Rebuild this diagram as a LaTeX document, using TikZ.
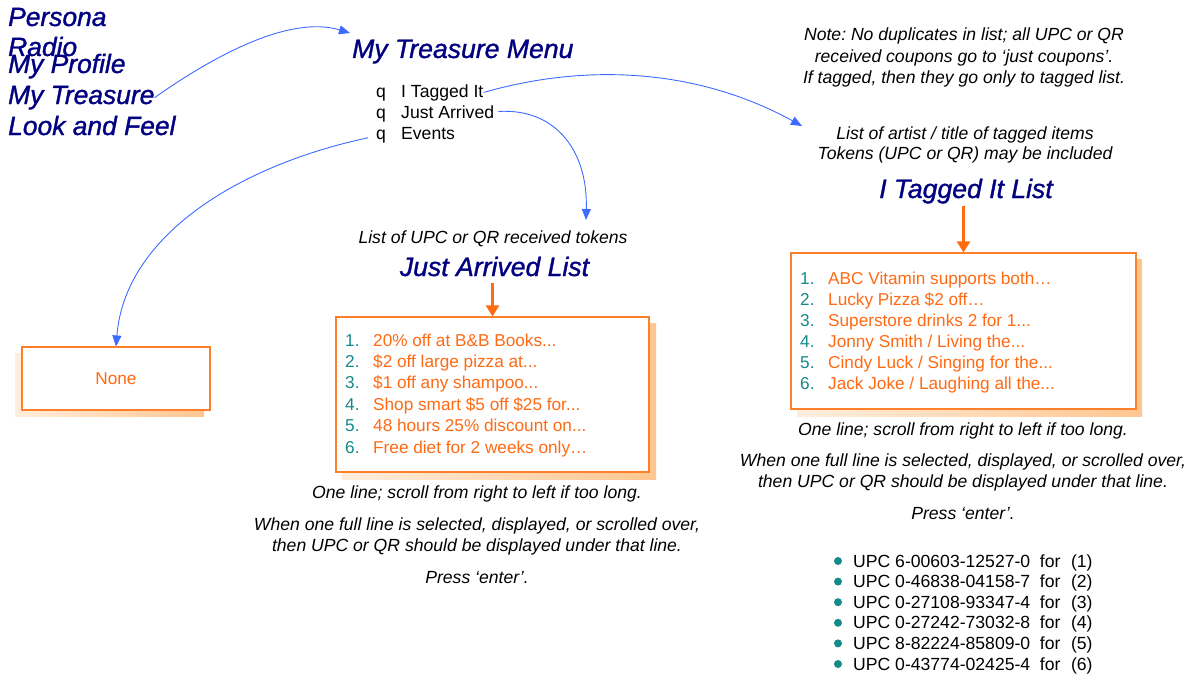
\documentclass[tikz,border=0pt]{standalone}
\usepackage{fontspec}
\setmainfont{Liberation Sans}
\newfontfamily\navyfont{Liberation Sans}[FakeBold=1.2]
\usetikzlibrary{arrows.meta}
\frenchspacing

\definecolor{navy}{HTML}{000080}
\definecolor{linkblue}{HTML}{3D6BFF}
\definecolor{boxorange}{HTML}{FF7F2A}
\definecolor{droporange}{HTML}{FF6A10}
\definecolor{txtorange}{HTML}{FF6A13}
\definecolor{numteal}{HTML}{158A8A}
\definecolor{shadelight}{HTML}{FFEEDD}
\definecolor{shadedark}{HTML}{FFC690}

\newcommand\fsz[1]{\fontsize{#1}{#1}\selectfont}

\begin{document}
\begin{tikzpicture}[x=1pt,y=-1pt,
  menuitem/.style={font=\navyfont\fsz{26.4}\itshape, text=navy, anchor=base west, inner sep=0pt},
  heading/.style={font=\navyfont\fsz{26.6}\itshape, text=navy, anchor=base, inner sep=0pt},
  choice/.style={font=\fsz{17.6}, anchor=base west, inner sep=0pt},
  remark/.style={font=\fsz{17.6}\itshape, anchor=base, inner sep=0pt},
  panel/.style={draw=boxorange, fill=white, line width=1.1pt, inner sep=0pt},
  panelshadow/.style={left color=shadelight, right color=shadedark},
  num/.style={font=\fsz{17.2}, text=numteal, anchor=base west, inner sep=0pt},
  entry/.style={font=\fsz{17.2}, text=txtorange, anchor=base west, inner sep=0pt},
  link/.style={draw=linkblue, line width=0.9pt, -{Triangle[length=11pt,width=9pt]}},
  drop/.style={draw=droporange, line width=2.2pt, -{Triangle[length=11pt,width=13pt]}},
  dot/.style={circle, fill=numteal, inner sep=0pt, minimum size=8pt}
]
\useasboundingbox (0,0) rectangle (1194,677);

% ---------- main menu ----------
\node[menuitem] (persona)  at (8,26)  {Persona};
\node[menuitem] (radio)    at (8,56)  {Radio};
\node[menuitem] (profile)  at (8,73)  {My Profile};
\node[menuitem] (treasure) at (8,104) {My Treasure};
\node[menuitem] (look)     at (8,135) {Look and Feel};

% ---------- treasure menu ----------
\node[heading, anchor=base west] (menuTitle) at (352,58) {My Treasure Menu};
\node[choice] (qa) at (376,97)  {q};
\node[choice] (tagged) at (401,97) {I Tagged It};
\node[choice] (qb) at (376,118) {q};
\node[choice] (arrived) at (401,118) {Just Arrived};
\node[choice] (qc) at (376,139) {q};
\node[choice] (events) at (401,139) {Events};

% ---------- events: none ----------
\shade[panelshadow] (15,353) rectangle (204,416);
\node[panel, minimum width=188pt, minimum height=63pt] (noneBox) at (116,378.5) {};
\node[font=\fsz{17.2}, text=txtorange, inner sep=0pt] (noneText) at (noneBox.center) {None};

% ---------- just arrived ----------
\node[remark] (jaNote) at (493,243) {List of UPC or QR received tokens};
\node[heading] (jaTitle) at (494.5,276) {Just Arrived List};
\shade[panelshadow] (342,323) rectangle (656,479);
\node[panel, minimum width=313pt, minimum height=155pt] (jaBox) at (492.5,394.5) {};

\node[num] (ja1n) at (345,346)   {1.};
\node[num] (ja2n) at (345,367.4) {2.};
\node[num] (ja3n) at (345,388.8) {3.};
\node[num] (ja4n) at (345,410.2) {4.};
\node[num] (ja5n) at (345,431.6) {5.};
\node[num] (ja6n) at (345,453)   {6.};
\node[entry] (ja1) at (373,346)   {20\% off at B\&B Books...};
\node[entry] (ja2) at (373,367.4) {\$2 off large pizza at...};
\node[entry] (ja3) at (373,388.8) {\$1 off any shampoo...};
\node[entry] (ja4) at (373,410.2) {Shop smart \$5 off \$25 for...};
\node[entry] (ja5) at (373,431.6) {48 hours 25\% discount on...};
\node[entry] (ja6) at (373,453)   {Free diet for 2 weeks only…};

\node[remark] (jaScroll) at (477,498) {One line; scroll from right to left if too long.};
\node[remark] (jaSel1) at (477,530) {When one full line is selected, displayed, or scrolled over,};
\node[remark] (jaSel2) at (477,551) {then UPC or QR should be displayed under that line.};
\node[remark] (jaPress) at (477,583) {Press ‘enter’.};

% ---------- I tagged it ----------
\node[remark] (note1) at (964,41) {Note: No duplicates in list; all UPC or QR};
\node[remark] (note2) at (964,63) {received coupons go to ‘just coupons’.};
\node[remark] (note3) at (964,84) {If tagged, then they go only to tagged list.};
\node[remark] (artist1) at (965,139) {List of artist / title of tagged items};
\node[remark] (artist2) at (965,159) {Tokens (UPC or QR) may be included};
\node[heading] (tagTitle) at (966,198) {I Tagged It List};
\shade[panelshadow] (797,259) rectangle (1142,416);
\node[panel, minimum width=345pt, minimum height=156pt] (tagBox) at (963.5,331) {};

\node[num] (tg1n) at (800,284) {1.};
\node[num] (tg2n) at (800,305) {2.};
\node[num] (tg3n) at (800,326) {3.};
\node[num] (tg4n) at (800,347) {4.};
\node[num] (tg5n) at (800,368) {5.};
\node[num] (tg6n) at (800,389) {6.};
\node[entry] (tg1) at (828,284) {ABC Vitamin supports both…};
\node[entry] (tg2) at (828,305) {Lucky Pizza \$2 off…};
\node[entry] (tg3) at (828,326) {Superstore drinks 2 for 1...};
\node[entry] (tg4) at (828,347) {Jonny Smith / Living the...};
\node[entry] (tg5) at (828,368) {Cindy Luck / Singing for the...};
\node[entry] (tg6) at (828,389) {Jack Joke / Laughing all the...};

\node[remark] (tgScroll) at (963,435) {One line; scroll from right to left if too long.};
\node[remark] (tgSel1) at (963,466) {When one full line is selected, displayed, or scrolled over,};
\node[remark] (tgSel2) at (963,487) {then UPC or QR should be displayed under that line.};
\node[remark] (tgPress) at (963,519) {Press ‘enter’.};

% UPC codes of the tagged items
\node[dot] (b1) at (838,561)   {};
\node[dot] (b2) at (838,581.6) {};
\node[dot] (b3) at (838,602.2) {};
\node[dot] (b4) at (838,622.8) {};
\node[dot] (b5) at (838,643.4) {};
\node[dot] (b6) at (838,664)   {};
\node[choice] (upc1) at (853,567)   {UPC 6-00603-12527-0\hspace{0.55em}for\hspace{0.6em}(1)};
\node[choice] (upc2) at (853,587.6) {UPC 0-46838-04158-7\hspace{0.55em}for\hspace{0.6em}(2)};
\node[choice] (upc3) at (853,608.2) {UPC 0-27108-93347-4\hspace{0.55em}for\hspace{0.6em}(3)};
\node[choice] (upc4) at (853,628.8) {UPC 0-27242-73032-8\hspace{0.55em}for\hspace{0.6em}(4)};
\node[choice] (upc5) at (853,649.4) {UPC 8-82224-85809-0\hspace{0.55em}for\hspace{0.6em}(5)};
\node[choice] (upc6) at (853,670)   {UPC 0-43774-02425-4\hspace{0.55em}for\hspace{0.6em}(6)};

% ---------- connectors ----------
\coordinate (menuTip) at (350,33);
\coordinate (jaTip) at (586,220);
\coordinate (tagTip) at (802,126);

\draw[link] (treasure.east) .. controls (215,55) and (290,15) .. (menuTip);
\draw[link] (tagged.east) .. controls (590,62) and (700,70) .. (tagTip);
\draw[link, shorten <=4pt] (arrived.east) .. controls (555,108) and (588,150) .. (jaTip);
\draw[link, shorten <=8pt] (qc.west) .. controls (240,165) and (125,235) .. (noneBox.north);

\draw[drop, shorten <=7pt] (jaTitle.south -| jaBox.north) -- (jaBox.north);
\draw[drop, shorten <=2pt] (tagTitle.south -| tagBox.north) -- (tagBox.north);
\end{tikzpicture}
\end{document}
